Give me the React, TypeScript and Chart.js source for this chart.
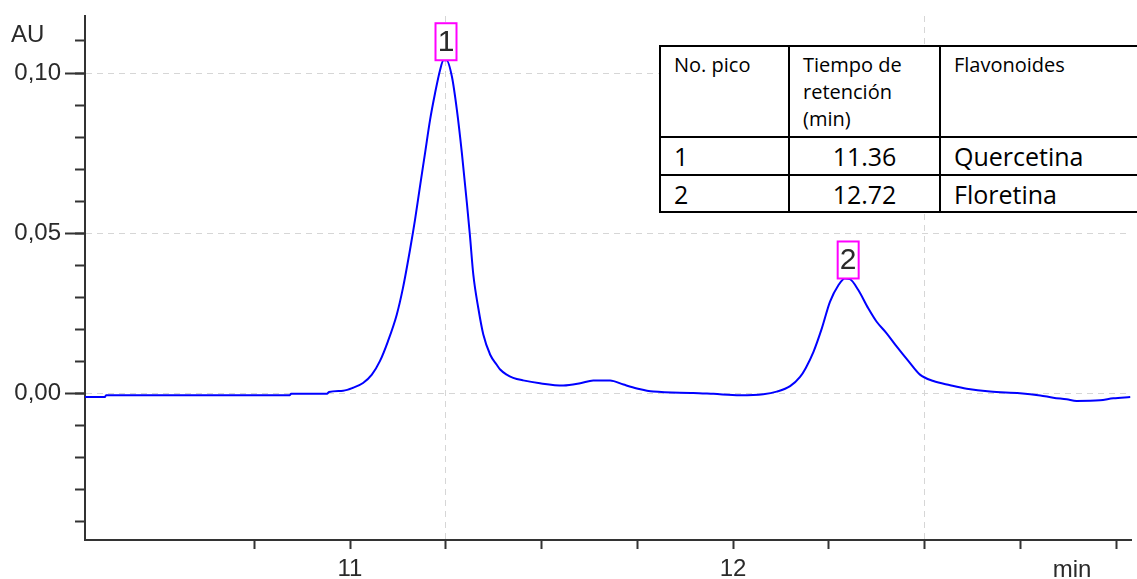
import React, { useEffect, useRef } from 'react';
import { Chart, registerables } from 'chart.js';

Chart.register(...registerables);

// Retention time (min)
const timeMin = [
  10.308, 10.36, 10.363, 10.843, 10.846, 10.94, 10.945, 10.982, 11.008, 11.034,
  11.057, 11.078, 11.099, 11.122, 11.138, 11.157, 11.17, 11.183, 11.196, 11.209,
  11.222, 11.235, 11.244, 11.252, 11.266, 11.279, 11.292, 11.305, 11.313, 11.322,
  11.335, 11.348, 11.366, 11.383, 11.392, 11.409, 11.426, 11.452, 11.496, 11.557,
  11.601, 11.635, 11.679, 11.714, 11.749, 11.792, 11.896, 11.949, 12.018, 12.079,
  12.114, 12.149, 12.175, 12.19, 12.21, 12.232, 12.253, 12.275, 12.292,
  12.305, 12.327, 12.353, 12.375, 12.401, 12.427, 12.458, 12.488, 12.523, 12.567,
  12.61, 12.671, 12.749, 12.802, 12.836, 12.871, 12.897, 12.958, 12.993, 13.037,
];

// Absorbance (AU)
const absorbance = [
  -0.0011, -0.0011, -0.0005, -0.0005, -0.0001, -0.0001, 0.0005, 0.0009, 0.0018, 0.0033,
  0.0059, 0.0101, 0.0163, 0.0246, 0.0328, 0.0451, 0.0544, 0.0649, 0.0751, 0.0854,
  0.0937, 0.1009, 0.104, 0.104, 0.0989, 0.0885, 0.0751, 0.0596, 0.0494, 0.037,
  0.0266, 0.0184, 0.0121, 0.009, 0.0075, 0.0059, 0.0049, 0.0041, 0.0032, 0.0025,
  0.0032, 0.0041, 0.0041, 0.0028, 0.0016, 0.0006, 0.0002, -0.0001, -0.0005, -0.0002,
  0.0006, 0.0023, 0.0052, 0.008, 0.013, 0.0204, 0.0286, 0.0338, 0.0359,
  0.0357, 0.0323, 0.0266, 0.0224, 0.0188, 0.0147, 0.0101, 0.0059, 0.0039, 0.0026,
  0.0015, 0.0006, 0.0001, -0.0006, -0.0013, -0.0018, -0.0023, -0.0021, -0.0015, -0.0011,
];

const xMin = 10.3081;
const xMax = 13.039;
const yMin = -0.0457;
const yMax = 0.1178;

const xTickValues = [10.75, 11, 11.25, 11.5, 11.75, 12, 12.25, 12.5, 12.75, 13];
const xLabelValues = [11, 12];
const xGridValues = [11.25, 12.5];
const yMajorTicks = [0, 0.05, 0.1];
const yMinorTicks = [-0.04, -0.03, -0.02, -0.01, 0, 0.01, 0.02, 0.03, 0.04, 0.05, 0.06, 0.07, 0.08, 0.09, 0.1, 0.11];

const yAxisLabel = 'AU';
const xAxisLabel = 'min';

const peakLabels = ['1', '2'];
const peakTimes = [11.248, 12.298];

const tableHeader = [['No. pico'], ['Tiempo de', 'retención', '(min)'], ['Flavonoides']];
const tableRows = [
  ['1', '11.36', 'Quercetina'],
  ['2', '12.72', 'Floretina'],
];

const AXIS_COLOR = '#333333';
const GRID_COLOR = '#d6d6d6';
const TEXT_COLOR = '#2a2a2a';
const FONT = '"Liberation Sans", Arial, sans-serif';

function nearestIndex(t: number): number {
  let best = 0;
  for (let i = 1; i < timeMin.length; i++) {
    if (Math.abs(timeMin[i] - t) < Math.abs(timeMin[best] - t)) best = i;
  }
  return best;
}

const annotationPlugin = {
  id: 'chromAnnotations',
  afterDraw(chart: any) {
    const { ctx, scales, chartArea } = chart;
    const x = scales.x;
    const y = scales.y;
    ctx.save();
    ctx.fillStyle = TEXT_COLOR;
    ctx.font = `24px ${FONT}`;
    ctx.textAlign = 'left';
    ctx.textBaseline = 'alphabetic';
    ctx.fillText(yAxisLabel, 11, 42);
    ctx.textAlign = 'center';
    ctx.fillText(xAxisLabel, chartArea.right - 59, 577);

    peakLabels.forEach((lab, i) => {
      const idx = nearestIndex(peakTimes[i]);
      const px = x.getPixelForValue(peakTimes[i]);
      const py = y.getPixelForValue(absorbance[idx]);
      const w = 21;
      const h = 37;
      ctx.fillStyle = '#ffffff';
      ctx.fillRect(px - w / 2 + 1, py - h, w, h);
      ctx.strokeStyle = '#ff00ff';
      ctx.lineWidth = 2;
      ctx.strokeRect(px - w / 2 + 1, py - h, w, h);
      ctx.fillStyle = TEXT_COLOR;
      ctx.font = `30px ${FONT}`;
      ctx.textAlign = 'center';
      ctx.textBaseline = 'middle';
      ctx.fillText(lab, px + 1, py - h / 2 + 1);
    });
    ctx.restore();
  },
};

function ChromChart() {
  const canvasRef = useRef<HTMLCanvasElement | null>(null);

  useEffect(() => {
    if (!canvasRef.current) return;
    const chart = new Chart(canvasRef.current, {
      type: 'line',
      data: {
        datasets: [
          {
            data: timeMin.map((t, i) => ({ x: t, y: absorbance[i] })),
            borderColor: '#0000ff',
            borderWidth: 2,
            pointRadius: 0,
            fill: false,
            cubicInterpolationMode: 'monotone',
            yAxisID: 'y',
            xAxisID: 'x',
          },
        ],
      },
      options: {
        responsive: false,
        animation: false,
        devicePixelRatio: 1,
        layout: { padding: { left: 0, top: 12, right: 6, bottom: 0 } },
        plugins: { legend: { display: false }, tooltip: { enabled: false } },
        scales: {
          x: {
            type: 'linear',
            position: 'bottom',
            min: xMin,
            max: xMax,
            afterBuildTicks: (s: any) => {
              s.ticks = xTickValues.map((v) => ({ value: v }));
            },
            afterFit: (s: any) => {
              s.height = 39;
            },
            grid: {
              color: (c: any) => (c.tick && xGridValues.includes(c.tick.value) ? GRID_COLOR : 'rgba(0,0,0,0)'),
              lineWidth: 1,
              tickColor: AXIS_COLOR,
              tickLength: 9,
              tickWidth: 2,
            },
            border: { display: true, color: AXIS_COLOR, width: 2, dash: [6, 5] },
            ticks: {
              autoSkip: false,
              maxRotation: 0,
              padding: 8,
              color: TEXT_COLOR,
              font: { family: FONT, size: 24, lineHeight: 1 },
              callback: (v: any) => (xLabelValues.includes(Number(v)) ? String(v) : ''),
            },
          },
          y: {
            type: 'linear',
            position: 'left',
            min: yMin,
            max: yMax,
            weight: 1,
            afterBuildTicks: (s: any) => {
              s.ticks = yMajorTicks.map((v) => ({ value: v }));
            },
            afterFit: (s: any) => {
              s.width = 85;
            },
            grid: {
              color: GRID_COLOR,
              lineWidth: 1,
              tickColor: AXIS_COLOR,
              tickLength: 20,
              tickWidth: 2,
            },
            border: { display: true, color: AXIS_COLOR, width: 2, dash: [6, 5] },
            ticks: {
              padding: 4,
              color: TEXT_COLOR,
              font: { family: FONT, size: 24, lineHeight: 1 },
              callback: (v: any) => Number(v).toFixed(2).replace('.', ','),
            },
          },
          yMinor: {
            type: 'linear',
            position: 'left',
            min: yMin,
            max: yMax,
            weight: 0,
            afterBuildTicks: (s: any) => {
              s.ticks = yMinorTicks.map((v) => ({ value: v }));
            },
            afterFit: (s: any) => {
              s.width = 0;
            },
            grid: {
              drawOnChartArea: false,
              tickColor: AXIS_COLOR,
              tickLength: 10,
              tickWidth: 2,
            },
            border: { display: false },
            ticks: { display: false },
          },
        },
      } as any,
      plugins: [annotationPlugin],
    });
    return () => chart.destroy();
  }, []);

  return <canvas ref={canvasRef} width={1137} height={579} style={{ display: 'block' }} />;
}

function PeakTable() {
  const cellBase: React.CSSProperties = {
    border: '2px solid #000',
    padding: '4px 13px',
    overflow: 'hidden',
    whiteSpace: 'nowrap',
  };
  return (
    <table
      style={{
        position: 'absolute',
        left: 659,
        top: 45,
        width: 480,
        borderCollapse: 'collapse',
        tableLayout: 'fixed',
        background: '#ffffff',
        fontFamily: '"Open Sans", sans-serif',
        color: '#000',
      }}
    >
      <colgroup>
        <col style={{ width: 129 }} />
        <col style={{ width: 151 }} />
        <col style={{ width: 200 }} />
      </colgroup>
      <tbody>
        <tr style={{ height: 91 }}>
          {tableHeader.map((lines, i) => (
            <td key={i} style={{ ...cellBase, verticalAlign: 'top', fontSize: 20, lineHeight: '27px' }}>
              {lines.map((ln, j) => (
                <div key={j}>{ln}</div>
              ))}
            </td>
          ))}
        </tr>
        {tableRows.map((row, r) => (
          <tr key={r} style={{ height: r === 0 ? 38 : 37 }}>
            {row.map((cell, c) => (
              <td
                key={c}
                style={{
                  ...cellBase,
                  padding: '0 13px',
                  verticalAlign: 'middle',
                  fontSize: 25,
                  lineHeight: '30px',
                  textAlign: c === 1 ? 'center' : 'left',
                }}
              >
                {cell}
              </td>
            ))}
          </tr>
        ))}
      </tbody>
    </table>
  );
}

export default function App() {
  return (
    <div
      style={{
        position: 'fixed',
        left: 0,
        top: 0,
        width: 1137,
        height: 579,
        overflow: 'hidden',
        background: '#ffffff',
      }}
    >
      <ChromChart />
      <PeakTable />
    </div>
  );
}
